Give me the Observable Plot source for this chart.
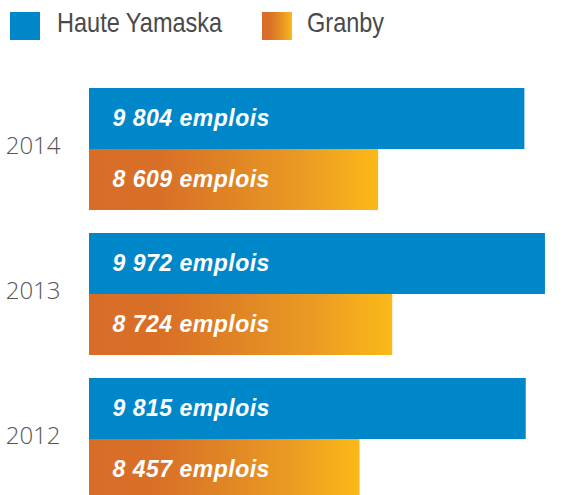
<!DOCTYPE html>
<html>
<head>
<meta charset="utf-8">
<script src="https://cdn.jsdelivr.net/npm/d3@7"></script>
<script src="https://cdn.jsdelivr.net/npm/@observablehq/plot@0.6"></script>
<style>
  html, body { margin: 0; padding: 0; background: #fff; overflow: hidden; }
  #legend { position: relative; width: 566px; height: 60px; font-family: "Liberation Sans", Arial, sans-serif; font-size: 28px; color: #4a4a4a; }
  #legend .sw { position: absolute; top: 12px; width: 30px; height: 28px; }
  #legend .lb { position: absolute; top: 6px; line-height: 34px; white-space: nowrap; transform: scaleX(0.84); transform-origin: 0 50%; }
  #chart svg { display: block; }
</style>
</head>
<body>
<div id="legend"></div>
<div id="chart"></div>
<script>
// ---- data ----
const years = ["2014", "2013", "2012"];
const seriesNames = ["Haute Yamaska", "Granby"];
const hauteYamaska = [9804, 9972, 9815];
const granby = [8609, 8724, 8457];
const seriesColors = ["#0087ca", "url(#granbyGrad)"];
const unitLabel = "emplois";

// scale domain (bars are not drawn from zero in the original)
const xStart = 6247, xEnd = 10144;

const data = years.flatMap((year, i) => [
  {year, series: seriesNames[0], value: hauteYamaska[i]},
  {year, series: seriesNames[1], value: granby[i]}
]);

const fmt = d3.formatLocale({thousands: " ", grouping: [3], decimal: ",", currency: ["", ""]}).format(",d");

const gradStops = [
  ["0%", "#d86d27"], ["25%", "#d97027"], ["50%", "#e08525"], ["75%", "#eb9c23"], ["100%", "#fbb918"]
];

// ---- legend ----
const legend = d3.select("#legend");
const legendPos = [{sw: 10, lb: 57}, {sw: 262, lb: 307}];
seriesNames.forEach((name, i) => {
  legend.append("div").attr("class", "sw")
    .style("left", legendPos[i].sw + "px")
    .style("background", i === 0 ? seriesColors[0] :
      "linear-gradient(to right, " + gradStops.map(s => s[1] + " " + s[0]).join(", ") + ")");
  legend.append("div").attr("class", "lb").style("left", legendPos[i].lb + "px").text(name);
});

// ---- chart ----
const chart = Plot.plot({
  width: 566,
  height: 440,
  marginLeft: 89,
  marginRight: 0,
  marginTop: 28,
  marginBottom: 0,
  style: {fontFamily: "'Liberation Sans', Arial, sans-serif", background: "transparent"},
  facet: {data, y: "year"},
  fy: {domain: years, paddingInner: 23 / 145, paddingOuter: 0, axis: null, label: null},
  x: {domain: [xStart, xEnd], axis: null},
  y: {domain: seriesNames, padding: 0, axis: null},
  marks: [
    Plot.barX(data, {
      filter: d => d.series === seriesNames[0],
      x1: () => xStart, x2: "value", y: "series",
      fill: seriesColors[0]
    }),
    Plot.barX(data, {
      filter: d => d.series === seriesNames[1],
      x1: () => xStart, x2: "value", y: "series",
      fill: seriesColors[1]
    }),
    Plot.text(data, {
      y: "series",
      text: d => `${fmt(d.value)} ${unitLabel}`,
      frameAnchor: "left",
      dx: 23,
      textAnchor: "start",
      fill: "white",
      fontSize: 23,
      fontWeight: "bold",
      fontStyle: "italic"
    }),
    Plot.text(data, {
      filter: d => d.series === seriesNames[0],
      text: "year",
      frameAnchor: "left",
      dx: -29,
      dy: -3,
      textAnchor: "end",
      fill: "#555",
      fontSize: 24,
      fontWeight: 300,
      fontFamily: "'Open Sans', Lato, sans-serif"
    })
  ]
});

// gradient definition for Granby bars
const svg = d3.select(chart);
const defs = svg.insert("defs", ":first-child");
const grad = defs.append("linearGradient").attr("id", "granbyGrad")
  .attr("x1", "0").attr("y1", "0").attr("x2", "1").attr("y2", "0");
gradStops.forEach(([o, c]) => grad.append("stop").attr("offset", o).attr("stop-color", c));
svg.selectAll("text").style("letter-spacing", function() {
  return this.closest("g") && d3.select(this.closest("g")).attr("fill") === "white" ? "0.5px" : null;
});

document.getElementById("chart").appendChild(chart);
</script>
</body>
</html>
